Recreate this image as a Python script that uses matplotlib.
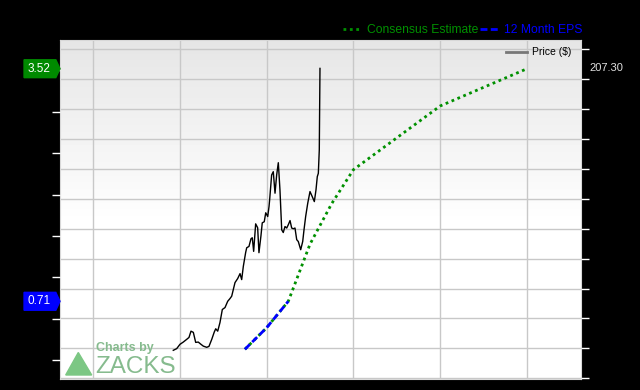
#!/usr/bin/env python3
"""
Price vs EPS chart (Zacks style): consensus estimate, 12 month EPS, price.
"""

import numpy as np
import matplotlib
matplotlib.use("Agg")
import matplotlib.pyplot as plt
from matplotlib.patches import Polygon

plt.rcParams["font.family"] = ["Liberation Sans", "DejaVu Sans"]

# x positions are in years (grid lines at whole years)
YEAR_GRID = [0, 1, 2, 3, 4, 5]

# 12 month EPS (history)
eps_x = [1.75, 2.0, 2.25]
eps_y = [0.13, 0.39, 0.71]

# consensus estimate (history + forecast)
cons_x = [1.75, 2.0, 2.25, 2.5, 2.75, 3.0, 4.0, 5.0]
cons_y = [0.13, 0.39, 0.71, 1.40, 1.89, 2.30, 3.07, 3.52]

# price ($)
price_x = [0.925, 0.964, 1.002, 1.040, 1.079, 1.106, 1.129, 1.156, 1.183, 1.213,
           1.244, 1.271, 1.310, 1.336, 1.368, 1.397, 1.414, 1.437, 1.463, 1.490,
           1.521, 1.552, 1.578, 1.598, 1.636, 1.667, 1.694, 1.713, 1.732, 1.759,
           1.771, 1.797, 1.820, 1.835, 1.851, 1.874, 1.897, 1.912, 1.935, 1.950,
           1.973, 1.990, 2.013, 2.028, 2.035, 2.058, 2.077, 2.097, 2.116, 2.135,
           2.154, 2.174, 2.192, 2.212, 2.232, 2.250, 2.270, 2.289, 2.308, 2.327,
           2.347, 2.365, 2.393, 2.416, 2.431, 2.450, 2.474, 2.500, 2.526, 2.550,
           2.569, 2.584, 2.596, 2.607, 2.615]
price_y = [18.7, 19.8, 22.7, 24.2, 26.0, 27.3, 31.5, 30.7, 24.0, 24.2,
           22.7, 21.5, 20.7, 21.3, 26.0, 30.9, 33.1, 31.5, 37.3, 46.0,
           47.3, 51.5, 53.3, 54.9, 64.0, 66.7, 70.0, 66.0, 74.9, 84.2,
           87.3, 88.2, 93.3, 94.0, 84.9, 103.3, 100.7, 84.0, 95.3, 104.0,
           104.7, 110.7, 108.2, 114.9, 119.3, 136.0, 138.2, 123.8, 136.0, 144.2,
           126.0, 99.3, 97.5, 101.5, 100.5, 102.7, 105.5, 100.5, 100.0, 100.5,
           92.7, 91.5, 86.0, 91.5, 99.3, 108.2, 117.1, 124.9, 121.5, 118.2,
           126.0, 134.9, 137.1, 152.7, 207.3]

EPS_TICKS   = np.arange(0, 3.51, 0.5)
PRICE_TICKS = np.arange(0, 221, 20)

GREEN = "#009000"
BLUE  = "#0000ff"
ZACKS = "#86bb8e"

fig = plt.figure(figsize=(6.4, 3.9), dpi=100, facecolor="black")
ax = fig.add_axes([60 / 640, 1 - 379 / 390, 521 / 640, 339 / 390])
ax2 = ax.twinx()

# background gradient
grad = np.concatenate([np.linspace(0.90, 1.0, 55), np.ones(45)])[:, None]
ax.imshow(grad, cmap="gray", vmin=0, vmax=1, aspect="auto",
          extent=[0, 1, 0, 1], transform=ax.transAxes, zorder=0)

# price on the bottom axes (carries the grid), right side ticks
ax.plot(price_x, price_y, color="black", lw=1.0, label="Price ($)", zorder=3)
ax.set_xlim(-0.380, 5.622)
ax.set_ylim(-0.5, 226.3)
ax.set_xticks(YEAR_GRID)
ax.set_yticks(PRICE_TICKS)
ax.grid(True, color="#c8c8c8", lw=1.0, zorder=1)
ax.set_axisbelow(True)
ax.yaxis.tick_right()
ax.tick_params(axis="y", colors="white", length=6, width=1, labelright=False)
ax.tick_params(axis="x", length=0, labelbottom=False)
for s in ax.spines.values():
    s.set_color("#d8d8d8")
ax2.spines[:].set_visible(False)

# EPS on the twin axes, left side ticks
ax2.plot(cons_x, cons_y, color=GREEN, lw=2.0, ls=(0, (1, 1.3)),
         label="Consensus Estimate", zorder=3)
ax2.plot(eps_x, eps_y, color=BLUE, lw=2.0, ls=(0, (2.5, 1.2)),
         label="12 Month EPS", zorder=4)
ax2.set_ylim(-0.229, 3.867)
ax2.set_yticks(EPS_TICKS)
ax2.yaxis.tick_left()
ax2.tick_params(axis="y", colors="white", length=6, width=1, labelleft=False)

# value tags on the left
def tag(value, color):
    h = 0.108
    pts = [(-0.069, value - h), (-0.008, value - h), (0.0, value),
           (-0.008, value + h), (-0.069, value + h)]
    ax2.add_patch(Polygon(pts, closed=True, color=color, clip_on=False,
                          transform=ax2.get_yaxis_transform(), zorder=5))
    ax2.text(-0.040, value, f"{value:.2f}", color="white", fontsize=8.5,
             ha="center", va="center", zorder=6,
             transform=ax2.get_yaxis_transform())

tag(cons_y[-1], "#008a00")
tag(eps_y[-1], BLUE)

ax.text(1.017, price_y[-1], f"{price_y[-1]:.2f}", color="#e0e0e0", fontsize=8,
        ha="left", va="center", transform=ax.get_yaxis_transform())

# legends
ax.legend(loc="upper right", bbox_to_anchor=(0.995, 1.0), frameon=False,
          fontsize=7.5, handlelength=2.0, handletextpad=0.5, borderaxespad=0.3)
leg = ax.get_legend()
leg.get_lines()[0].set_color("#777777")
leg.get_lines()[0].set_linewidth(2)

h1, l1 = ax2.get_legend_handles_labels()
fig.legend(h1, l1, loc="center", bbox_to_anchor=(0.723, 0.923), ncol=2,
           frameon=False, fontsize=8.7, labelcolor="linecolor",
           handlelength=1.6, handletextpad=0.4, columnspacing=0.1)

# watermark
fig.patches.append(Polygon([(65.7 / 640, 1 - 375 / 390), (78.3 / 640, 1 - 352.5 / 390),
                            (91.7 / 640, 1 - 375 / 390)], closed=True,
                           color="#7cc784", transform=fig.transFigure, zorder=6))
fig.text(96 / 640, 1 - 348 / 390, "Charts by", color=ZACKS, fontsize=9,
         fontweight="bold", ha="left", va="center", zorder=6)
fig.text(95 / 640, 1 - 367 / 390, "ZACKS", color=ZACKS, fontsize=17.5,
         ha="left", va="center", zorder=6)

fig.savefig("out.png", dpi=100, facecolor="black")
print("Saved out.png")
